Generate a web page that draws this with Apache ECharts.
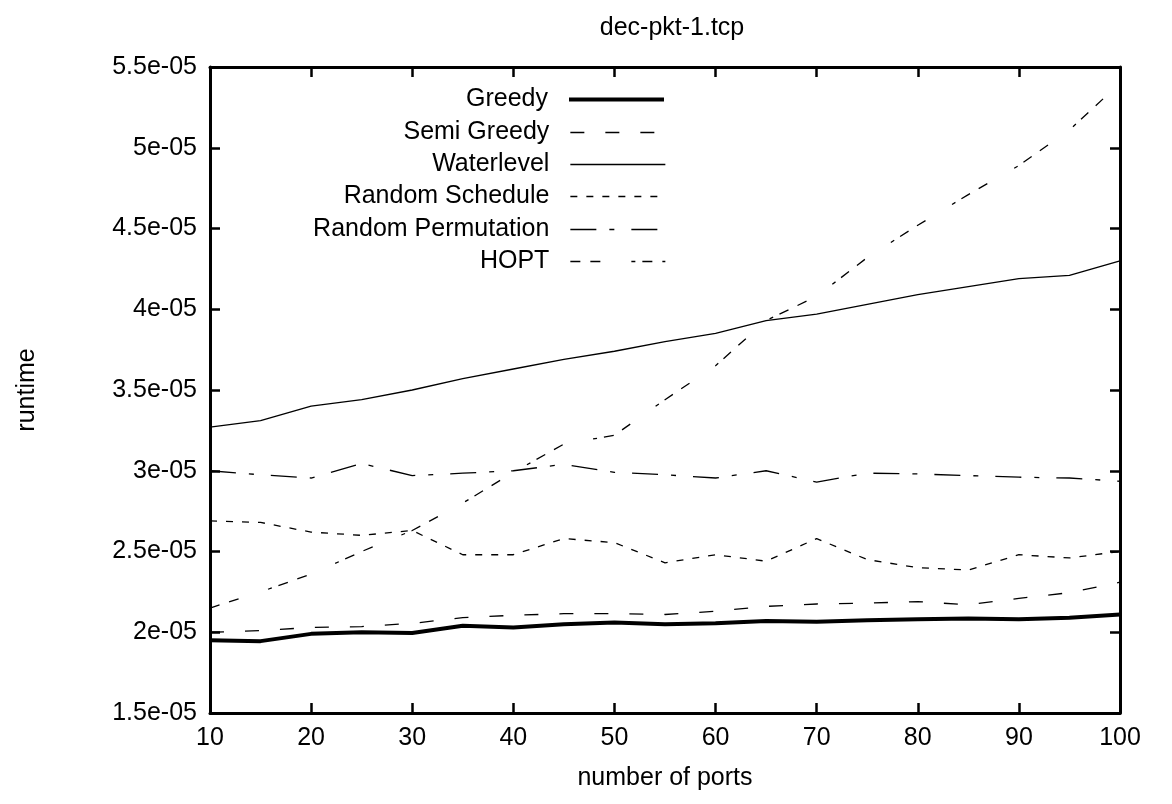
<!DOCTYPE html>
<html>
<head>
<meta charset="utf-8">
<script src="https://cdn.jsdelivr.net/npm/echarts@6/dist/echarts.min.js"></script>
<style>html,body{margin:0;padding:0;background:#fff}#c{width:1172px;height:804px}</style>
</head>
<body>
<div id="c"></div>
<script>
const ports = [10,15,20,25,30,35,40,45,50,55,60,65,70,75,80,85,90,95,100];
const greedy = [1.95e-5,1.945e-5,1.99e-5,2.0e-5,1.995e-5,2.04e-5,2.03e-5,2.05e-5,2.06e-5,2.05e-5,2.055e-5,2.07e-5,2.065e-5,2.075e-5,2.08e-5,2.085e-5,2.08e-5,2.09e-5,2.11e-5];
const semiGreedy = [2.0e-5,2.01e-5,2.03e-5,2.035e-5,2.055e-5,2.09e-5,2.105e-5,2.115e-5,2.115e-5,2.11e-5,2.13e-5,2.16e-5,2.175e-5,2.18e-5,2.19e-5,2.17e-5,2.21e-5,2.245e-5,2.31e-5];
const waterlevel = [3.27e-5,3.31e-5,3.40e-5,3.44e-5,3.50e-5,3.57e-5,3.63e-5,3.69e-5,3.74e-5,3.80e-5,3.85e-5,3.93e-5,3.97e-5,4.03e-5,4.09e-5,4.14e-5,4.19e-5,4.21e-5,4.30e-5];
const randomSchedule = [2.69e-5,2.68e-5,2.62e-5,2.60e-5,2.63e-5,2.48e-5,2.48e-5,2.58e-5,2.555e-5,2.43e-5,2.48e-5,2.44e-5,2.58e-5,2.45e-5,2.40e-5,2.385e-5,2.48e-5,2.46e-5,2.50e-5];
const randomPermutation = [3.0e-5,2.975e-5,2.955e-5,3.045e-5,2.97e-5,2.985e-5,3.0e-5,3.04e-5,2.99e-5,2.975e-5,2.955e-5,3.0e-5,2.93e-5,2.985e-5,2.98e-5,2.97e-5,2.96e-5,2.955e-5,2.935e-5];
const hopt = [2.15e-5,2.25e-5,2.36e-5,2.50e-5,2.63e-5,2.80e-5,2.99e-5,3.165e-5,3.22e-5,3.44e-5,3.65e-5,3.93e-5,4.08e-5,4.32e-5,4.52e-5,4.71e-5,4.89e-5,5.11e-5,5.40e-5];
const seriesNames = ['Greedy','Semi Greedy','Waterlevel','Random Schedule','Random Permutation','HOPT'];
const yTickLabels = ['1.5e-05','2e-05','2.5e-05','3e-05','3.5e-05','4e-05','4.5e-05','5e-05','5.5e-05'];
const xTickLabels = ['10','20','30','40','50','60','70','80','90','100'];
const titleText = 'dec-pkt-1.tcp';
const xName = 'number of ports';
const yName = 'runtime';

const FONT = 'Liberation Sans';
const FS = 25;
const dataSets = [greedy, semiGreedy, waterlevel, randomSchedule, randomPermutation, hopt];
const styles = [
  {width: 4, type: 'solid'},
  {width: 1.3, type: [14, 21]},
  {width: 1.3, type: 'solid'},
  {width: 1.3, type: [7, 9]},
  {width: 1.3, type: [26, 13, 5, 17]},
  {width: 1.3, type: [10, 10, 10, 31, 4, 7]}
];
const legendTops = [94, 127, 159, 191, 224, 256];

const chart = echarts.init(document.getElementById('c'));
const yLabel = v => {
  const i = Math.round((v - 1.5e-5) / 0.5e-5);
  return yTickLabels[i] !== undefined ? yTickLabels[i] : '';
};
const xLabel = v => xTickLabels.indexOf(String(v)) >= 0 ? String(v) : '';
const axisLine = {show: true, lineStyle: {color: '#000', width: 3}};
const tick = {show: true, inside: true, length: 10, lineStyle: {color: '#000', width: 2.5}};
const series = seriesNames.map((n, i) => ({
  name: n,
  type: 'line',
  symbol: 'none',
  smooth: false,
  silent: true,
  animation: false,
  data: ports.map((p, j) => [p, dataSets[i][j]]),
  lineStyle: {color: '#000', width: styles[i].width, type: styles[i].type, cap: 'butt'},
  itemStyle: {color: '#000'},
  z: 3
}));
const legends = seriesNames.map((n, i) => ({
  data: [n],
  orient: 'vertical',
  right: 501,
  top: legendTops[i] - 12,
  align: 'right',
  itemWidth: 95,
  itemHeight: 24,
  selectedMode: false,
  itemStyle: {opacity: 0},
  lineStyle: {color: '#000', width: styles[i].width, type: styles[i].type, cap: 'butt'},
  textStyle: {fontFamily: FONT, fontSize: FS, color: '#000', padding: [0, 16, 0, 0]}
}));
chart.setOption({
  animation: false,
  backgroundColor: '#fff',
  title: {text: titleText, left: 667, top: 11, textAlign: 'center', textStyle: {fontFamily: FONT, fontSize: FS, fontWeight: 'normal', color: '#000'}},
  legend: legends,
  grid: {left: 210, right: 52, top: 67, bottom: 91, containLabel: false, outerBoundsMode: 'none'},
  xAxis: [
    {type: 'value', min: 10, max: 100, interval: 10, position: 'bottom',
     axisLine: axisLine, axisTick: tick,
     axisLabel: {formatter: xLabel, fontFamily: FONT, fontSize: FS, color: '#000', margin: 13},
     splitLine: {show: false},
     name: xName, nameLocation: 'middle', nameGap: 53, nameTextStyle: {fontFamily: FONT, fontSize: FS, color: '#000'}},
    {type: 'value', min: 10, max: 100, interval: 10, position: 'top',
     axisLine: axisLine, axisTick: tick,
     axisLabel: {show: false}, splitLine: {show: false}}
  ],
  yAxis: [
    {type: 'value', min: 1.5e-5, max: 5.5e-5, interval: 0.5e-5, position: 'left',
     axisLine: axisLine, axisTick: tick,
     axisLabel: {formatter: yLabel, fontFamily: FONT, fontSize: FS, color: '#000', margin: 13},
     splitLine: {show: false},
     name: yName, nameLocation: 'middle', nameGap: 170, nameRotate: 90, nameTextStyle: {fontFamily: FONT, fontSize: FS, color: '#000'}},
    {type: 'value', min: 1.5e-5, max: 5.5e-5, interval: 0.5e-5, position: 'right',
     axisLine: axisLine, axisTick: tick,
     axisLabel: {show: false}, splitLine: {show: false}}
  ],
  series: series
});
</script>
</body>
</html>
